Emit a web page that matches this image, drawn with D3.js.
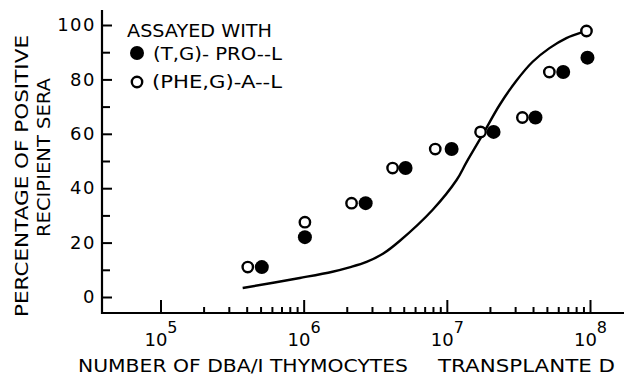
<!DOCTYPE html>
<html><head><meta charset="utf-8">
<script src="https://cdn.jsdelivr.net/npm/d3@7"></script>
<style>body{margin:0;background:#fff}svg{display:block}</style>
</head><body>
<svg id="c" width="624" height="375"></svg>
<script>
// ---- data ----
const seriesNames = ["(T,G)- PRO--L", "(PHE,G)-A--L"];
const legendTitle = "ASSAYED WITH";
// filled circles: (T,G)-Pro--L
const filledX = [5.1e5, 1.02e6, 2.71e6, 5.15e6, 1.08e7, 2.12e7, 4.16e7, 6.5e7, 9.6e7];
const filledY = [11, 22, 34.5, 47.4, 54.4, 60.7, 66, 82.7, 88];
// open circles: (Phe,G)-A--L
const openX = [4.07e5, 1.02e6, 2.16e6, 4.18e6, 8.3e6, 1.72e7, 3.37e7, 5.2e7, 9.45e7];
const openY = [11, 27.5, 34.5, 47.4, 54.4, 60.7, 66, 82.7, 97.8];
// fitted curve
const curveX = [3.75e5, 9.4e5, 1.59e6, 2.09e6, 2.75e6, 3.6e6, 4.68e6, 7.94e6, 1.17e7, 1.37e7, 1.77e7, 2.33e7, 3.06e7, 3.96e7, 5.21e7, 6.84e7, 8.85e7, 9.44e7];
const curveY = [3.3, 7.0, 9.3, 10.9, 12.9, 16.0, 20.6, 32, 43, 49.5, 59.5, 70.5, 79.5, 86.4, 91.5, 95.2, 97.4, 97.8];
const yTicks = [0, 20, 40, 60, 80, 100];
const yMinor = [10, 30, 50, 70, 90];
const xTicks = [1e5, 1e6, 1e7, 1e8];
const xTickExp = ["5", "6", "7", "8"];
const xTitle1 = "NUMBER OF DBA/I THYMOCYTES";
const xTitle2 = "TRANSPLANTE D";
const yTitle1 = "PERCENTAGE OF POSITIVE";
const yTitle2 = "RECIPIENT SERA";

// ---- scales ----
const x = d3.scaleLog().domain([1e5, 1e8]).range([160.5, 590]);
const y = d3.scaleLinear().domain([0, 100]).range([297, 25]);
const svg = d3.select("#c");
const FONT = "'DejaVu Sans', sans-serif";
const axisX = 102, axisY = 313;

// minor x ticks
const xMinor = [];
for (let e = 5; e < 8; e++) for (let m = 2; m <= 9; m++) xMinor.push(m * Math.pow(10, e));

// y axis
const gy = svg.append("g").attr("transform", `translate(${axisX},0)`);
gy.call(d3.axisLeft(y).tickValues(yTicks).tickSizeInner(-10).tickSizeOuter(0).tickPadding(6));
const gym = svg.append("g").attr("transform", `translate(${axisX},0)`);
gym.call(d3.axisLeft(y).tickValues(yMinor).tickSizeInner(-8).tickSizeOuter(0).tickFormat(""));
// x axis
const gx = svg.append("g").attr("transform", `translate(0,${axisY})`);
gx.call(d3.axisBottom(x).tickValues(xTicks).tickSizeInner(-13).tickSizeOuter(0).tickFormat(""));
const gxm = svg.append("g").attr("transform", `translate(0,${axisY})`);
gxm.call(d3.axisBottom(x).tickValues(xMinor).tickSizeInner(-6).tickSizeOuter(0).tickFormat(""));

svg.selectAll(".domain").remove();
svg.selectAll(".tick line").attr("stroke", "#000").attr("stroke-width", 2);
gy.selectAll("text").attr("font-family", FONT).attr("font-size", 18).attr("fill", "#000").attr("letter-spacing", 1.5);

// x tick labels with superscripts
gx.selectAll(".tick").each(function(d, i) {
  const t = d3.select(this).append("text").attr("fill", "#000").attr("font-family", FONT)
    .attr("text-anchor", "middle").attr("y", 33).attr("x", 0);
  t.append("tspan").attr("font-size", 18).text("10");
  t.append("tspan").attr("font-size", 16).attr("dy", -13).text(xTickExp[i]);
});

// axis lines
svg.append("line").attr("x1", axisX).attr("x2", axisX).attr("y1", y(105.5)).attr("y2", axisY + 1)
  .attr("stroke", "#000").attr("stroke-width", 2.2);
svg.append("line").attr("x1", axisX - 1).attr("x2", 624).attr("y1", axisY).attr("y2", axisY)
  .attr("stroke", "#000").attr("stroke-width", 2.2);

// curve
const line = d3.line().x(d => x(d[0])).y(d => y(d[1])).curve(d3.curveCatmullRom.alpha(0.5));
svg.append("path").datum(curveX.map((v, i) => [v, curveY[i]]))
  .attr("d", line).attr("fill", "none").attr("stroke", "#000").attr("stroke-width", 2.4);

// points
svg.append("g").selectAll("circle").data(filledX.map((v, i) => [v, filledY[i]])).join("circle")
  .attr("cx", d => x(d[0])).attr("cy", d => y(d[1])).attr("r", 7).attr("fill", "#000");
svg.append("g").selectAll("circle").data(openX.map((v, i) => [v, openY[i]])).join("circle")
  .attr("cx", d => x(d[0])).attr("cy", d => y(d[1])).attr("r", 5.2)
  .attr("fill", "#fff").attr("stroke", "#000").attr("stroke-width", 2.4);

// legend
function txt(s, xx, yy, len, size) {
  return svg.append("text").attr("x", xx).attr("y", yy).attr("font-family", FONT)
    .attr("font-size", size).attr("fill", "#000")
    .attr("textLength", len).attr("lengthAdjust", "spacingAndGlyphs").text(s);
}
txt(legendTitle, 127, 37, 145, 17);
svg.append("circle").attr("cx", 137).attr("cy", 53).attr("r", 7).attr("fill", "#000");
txt(seriesNames[0], 153, 60, 129, 17);
svg.append("circle").attr("cx", 137).attr("cy", 82).attr("r", 5.2).attr("fill", "#fff")
  .attr("stroke", "#000").attr("stroke-width", 2.4);
txt(seriesNames[1], 152, 88, 130, 17);

// axis titles
txt(xTitle1, 78, 372, 330, 18);
txt(xTitle2, 438, 372, 177, 18);
svg.append("text").attr("transform", "translate(28,317) rotate(-90)")
  .attr("font-family", FONT).attr("font-size", 18).attr("fill", "#000")
  .attr("textLength", 282).attr("lengthAdjust", "spacingAndGlyphs").text(yTitle1);
svg.append("text").attr("transform", "translate(50,237) rotate(-90)")
  .attr("font-family", FONT).attr("font-size", 18).attr("fill", "#000")
  .attr("textLength", 159).attr("lengthAdjust", "spacingAndGlyphs").text(yTitle2);
</script>
</body></html>
